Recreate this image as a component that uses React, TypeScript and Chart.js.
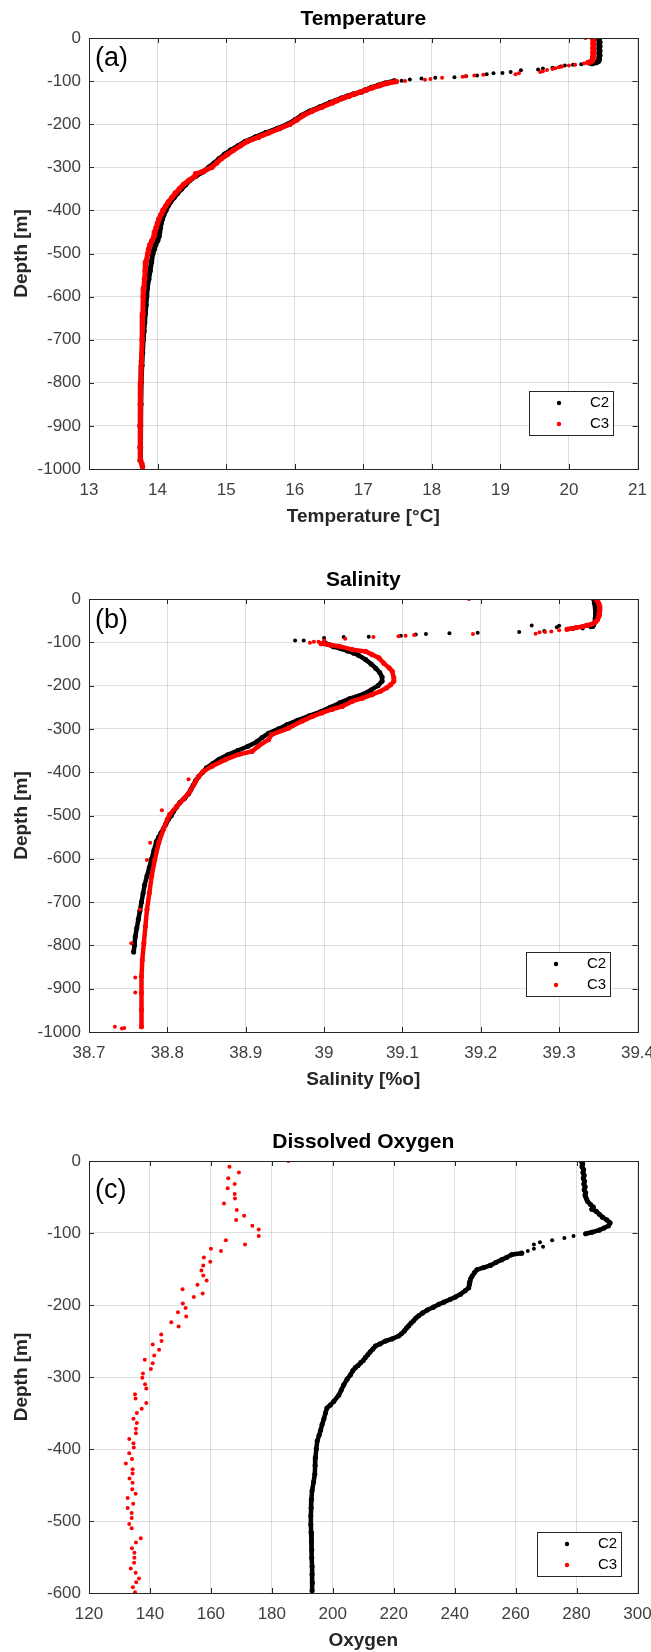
import React, { useEffect, useRef } from 'react';
import { Chart, registerables } from 'chart.js';

Chart.register(...registerables);

type P = [number, number];

const FONT = "'Liberation Sans', Arial, Helvetica, sans-serif";
const AXIS = '#262626';
const TICKTXT = '#404040';
const GRID = 'rgba(38,38,38,0.15)';
const BLACK = '#000000';
const RED = '#ff0000';

// ---------------- Temperature (a) ----------------
const tempTicks = [13, 14, 15, 16, 17, 18, 19, 20, 21];
const depthTicks1000 = [0, -100, -200, -300, -400, -500, -600, -700, -800, -900, -1000];

const tempC2Surface: P[] = [[20.44, 0], [20.44, -5], [20.45, -10], [20.44, -15], [20.45, -20], [20.44, -25], [20.45, -30], [20.44, -35], [20.45, -40], [20.44, -45], [20.44, -50], [20.43, -54], [20.40, -57], [20.34, -59]];
const tempC2Scatter: P[] = [[20.30, -60], [20.18, -61], [20.06, -62], [19.94, -64], [19.88, -66], [19.76, -69], [19.62, -71], [19.55, -73], [19.30, -75], [19.15, -79], [19.03, -81], [18.90, -82], [18.80, -84], [18.66, -87], [18.50, -89], [18.33, -91], [18.05, -92], [17.85, -94], [17.68, -96], [17.56, -99]];
const tempC2Profile: P[] = [[17.45, -100], [17.32, -105], [17.22, -110], [17.12, -115], [17.04, -120], [16.97, -125], [16.86, -130], [16.77, -135], [16.68, -140], [16.60, -145], [16.52, -150], [16.37, -160], [16.22, -170], [16.10, -180], [16.01, -190], [15.90, -200], [15.75, -210], [15.58, -220], [15.43, -230], [15.28, -240], [15.18, -250], [15.07, -260], [14.98, -270], [14.90, -280], [14.83, -290], [14.75, -300], [14.67, -310], [14.56, -320], [14.47, -330], [14.41, -340], [14.35, -350], [14.29, -360], [14.24, -370], [14.19, -380], [14.15, -390], [14.12, -400], [14.09, -410], [14.07, -420], [14.05, -430], [14.04, -440], [14.03, -450], [14.02, -460], [14.00, -470], [13.97, -480], [13.95, -490], [13.93, -500], [13.91, -520], [13.89, -540], [13.87, -560], [13.85, -580], [13.84, -600], [13.83, -620], [13.82, -640], [13.81, -660], [13.80, -680], [13.79, -700], [13.78, -730], [13.77, -760], [13.76, -800], [13.755, -850], [13.75, -900], [13.75, -950], [13.75, -980]];

const tempC3Surface: P[] = [[20.35, -3], [20.36, -8], [20.35, -13], [20.36, -18], [20.35, -23], [20.36, -28], [20.35, -33], [20.36, -38], [20.35, -43], [20.35, -48], [20.34, -52], [20.32, -55], [20.28, -57]];
const tempC3Scatter: P[] = [[20.24, 0], [20.22, -59], [20.09, -62], [20.00, -64], [19.90, -66], [19.85, -68], [19.80, -70], [19.76, -72], [19.68, -74], [19.62, -77], [19.58, -79], [19.27, -82], [19.22, -84], [18.75, -85], [18.62, -87], [18.49, -89], [18.45, -90], [18.15, -92], [17.98, -95], [17.90, -97], [17.61, -100]];
const tempC3Profile: P[] = [[17.48, -101], [17.35, -105], [17.24, -110], [17.14, -115], [17.05, -120], [16.97, -125], [16.87, -130], [16.79, -135], [16.70, -140], [16.62, -145], [16.55, -150], [16.40, -160], [16.25, -170], [16.12, -180], [16.03, -190], [15.93, -200], [15.78, -210], [15.62, -220], [15.47, -230], [15.31, -240], [15.21, -250], [15.11, -260], [15.02, -270], [14.93, -280], [14.86, -290], [14.79, -300], [14.66, -310], [14.56, -315], [14.55, -320], [14.46, -330], [14.38, -340], [14.32, -350], [14.26, -360], [14.21, -370], [14.16, -380], [14.12, -390], [14.08, -400], [14.05, -410], [14.02, -420], [14.00, -430], [13.98, -440], [13.96, -450], [13.95, -460], [13.92, -470], [13.89, -480], [13.87, -490], [13.86, -500], [13.83, -520], [13.82, -540], [13.81, -560], [13.80, -580], [13.79, -600], [13.785, -640], [13.775, -700], [13.765, -750], [13.755, -800], [13.75, -850], [13.745, -900], [13.745, -950], [13.75, -980], [13.77, -988], [13.78, -995]];

// ---------------- Salinity (b) ----------------
const salTicks = [38.7, 38.8, 38.9, 39.0, 39.1, 39.2, 39.3, 39.4];

const salC2Surface: P[] = [[39.344, 0], [39.345, -5], [39.345, -10], [39.346, -15], [39.346, -20], [39.347, -25], [39.347, -30], [39.347, -35], [39.347, -40], [39.346, -45], [39.346, -50], [39.345, -55], [39.344, -60], [39.343, -63]];
const salC2Scatter: P[] = [[39.340, -65], [39.330, -68], [39.318, -69], [39.300, -62], [39.297, -65], [39.281, -74], [39.265, -61], [39.249, -76], [39.196, -78], [39.160, -79], [39.130, -81], [39.117, -82], [39.098, -85], [39.057, -87], [39.025, -88], [39.000, -90], [38.974, -96], [38.963, -96]];
const salC2Profile: P[] = [[39.000, -100], [39.005, -105], [39.012, -110], [39.022, -115], [39.030, -120], [39.038, -125], [39.044, -130], [39.053, -140], [39.060, -150], [39.066, -160], [39.071, -170], [39.074, -180], [39.074, -190], [39.069, -200], [39.060, -210], [39.050, -220], [39.033, -230], [39.020, -240], [39.008, -250], [38.996, -260], [38.981, -270], [38.966, -280], [38.953, -290], [38.942, -300], [38.929, -310], [38.921, -320], [38.914, -330], [38.903, -340], [38.890, -350], [38.877, -360], [38.866, -370], [38.858, -380], [38.850, -390], [38.845, -400], [38.840, -410], [38.836, -420], [38.833, -430], [38.830, -440], [38.827, -450], [38.822, -460], [38.816, -470], [38.812, -480], [38.808, -490], [38.805, -500], [38.801, -510], [38.798, -520], [38.795, -530], [38.792, -540], [38.789, -550], [38.786, -560], [38.783, -580], [38.780, -600], [38.777, -620], [38.774, -640], [38.771, -660], [38.769, -680], [38.767, -700], [38.765, -720], [38.763, -740], [38.761, -760], [38.759, -780], [38.758, -800], [38.757, -815]];

const salC3Surface: P[] = [[39.348, -3], [39.350, -8], [39.351, -13], [39.352, -18], [39.352, -23], [39.352, -28], [39.351, -33], [39.351, -38], [39.350, -43], [39.349, -48], [39.347, -52], [39.344, -56], [39.340, -59], [39.335, -61], [39.329, -64], [39.322, -66], [39.316, -68], [39.310, -70]];
const salC3Scatter: P[] = [[39.185, 0], [39.300, -72], [39.290, -75], [39.282, -76], [39.275, -77], [39.270, -80], [39.190, -81], [39.115, -83], [39.104, -85], [39.095, -86], [39.063, -88], [39.027, -92], [39.000, -96], [38.993, -99], [38.987, -99], [38.982, -101], [38.827, -416], [38.793, -488], [38.778, -563], [38.774, -603], [38.765, -717], [38.754, -795], [38.759, -874], [38.759, -909], [38.733, -988], [38.742, -992], [38.745, -991]];
const salC3Profile: P[] = [[38.996, -103], [39.008, -106], [39.019, -109], [39.036, -117], [39.053, -121], [39.061, -128], [39.070, -136], [39.076, -148], [39.083, -159], [39.087, -167], [39.089, -182], [39.089, -190], [39.085, -198], [39.080, -205], [39.072, -213], [39.061, -221], [39.049, -229], [39.036, -236], [39.023, -248], [39.010, -255], [38.997, -263], [38.985, -271], [38.972, -282], [38.955, -298], [38.933, -313], [38.929, -325], [38.916, -340], [38.908, -352], [38.891, -359], [38.874, -371], [38.857, -386], [38.846, -398], [38.840, -410], [38.835, -425], [38.829, -444], [38.820, -463], [38.812, -479], [38.803, -498], [38.800, -509], [38.795, -532], [38.789, -563], [38.784, -602], [38.780, -640], [38.777, -679], [38.774, -717], [38.772, -756], [38.770, -795], [38.768, -834], [38.767, -872], [38.767, -910], [38.767, -949], [38.767, -988]];

// ---------------- Dissolved Oxygen (c) ----------------
const oxyTicks = [120, 140, 160, 180, 200, 220, 240, 260, 280, 300];
const depthTicks600 = [0, -100, -200, -300, -400, -500, -600];

const oxyC2Upper: P[] = [[281.5, 0], [282, -4], [281.8, -8], [282.3, -12], [282.1, -16], [282.5, -20], [282.2, -24], [282.6, -28], [282.4, -32], [282.8, -36], [282.5, -40], [283, -44], [282.8, -48], [283.2, -52], [283.6, -56], [284.5, -60], [285.5, -64], [285, -67], [286.5, -70], [287.5, -74], [288.5, -78], [290, -82], [291, -86], [290.5, -90], [289, -93], [287.5, -96], [285, -99], [283, -101]];
const oxyC2Scatter: P[] = [[279, -104], [276, -107], [272, -110], [268, -113], [266, -116], [269, -119], [266, -122], [264, -125]];
const oxyC2Profile: P[] = [[262, -128], [258.8, -130], [257, -134], [255.5, -137], [253.5, -141], [251.7, -145], [249.5, -148], [247.3, -151], [246.5, -155], [245.7, -160], [245.2, -164], [245, -168], [244.8, -172], [244.6, -176], [243.5, -180], [241.9, -185], [240.2, -189], [238.6, -192], [236.5, -196], [234.8, -199], [233, -203], [231, -207], [229.5, -211], [228.2, -215], [227.3, -218], [226.5, -222], [225.7, -225], [224.9, -229], [224.2, -232], [223.5, -236], [222.5, -240], [221.6, -243], [219.5, -247], [217.3, -250], [215.5, -254], [214, -257], [213.2, -261], [212.3, -265], [211.5, -269], [210.7, -273], [210, -277], [209.2, -280], [208.3, -284], [207.4, -287], [206.6, -291], [205.8, -297], [204.7, -303], [203.6, -311], [202.8, -318], [202, -325], [200.3, -334], [199.2, -339], [198.1, -343], [197.6, -350], [197.1, -358], [196.5, -366], [196, -374], [195.5, -381], [194.9, -389], [194.6, -400], [194.3, -412], [194.2, -423], [194.1, -435], [193.7, -446], [193.2, -458], [193, -470], [192.9, -482], [192.8, -493], [192.8, -505], [192.9, -516], [193, -528], [193.1, -540], [193.1, -551], [193.2, -563], [193.2, -574], [193.3, -586], [193.2, -597]];

const oxyC3Points: P[] = [[185.4, 0], [166.1, -8], [169.2, -16], [165.7, -24], [167.8, -32], [165.5, -38], [167.8, -46], [167.9, -52], [164.3, -59], [168.5, -68], [170.9, -76], [168.3, -82], [173.6, -90], [175.7, -95], [175.7, -104], [164.9, -110], [171.2, -116], [160.0, -122], [163.3, -125], [157.7, -134], [159.8, -140], [157.5, -145], [156.9, -152], [157.5, -159], [158.6, -166], [155.6, -172], [150.7, -178], [157.3, -184], [154.4, -189], [150.8, -198], [151.7, -204], [149.2, -210], [151.9, -216], [147.0, -224], [149.4, -230], [143.7, -241], [143.8, -250], [140.9, -255], [143.0, -262], [141.4, -270], [138.3, -276], [140.9, -281], [140.3, -289], [137.7, -295], [137.5, -301], [138.4, -310], [138.8, -316], [135.1, -324], [135.3, -330], [138.8, -336], [137.3, -344], [135.7, -350], [134.6, -358], [135.7, -364], [135.4, -372], [135.4, -378], [133.2, -386], [134.6, -392], [134.7, -398], [133.2, -406], [134.1, -414], [132.1, -420], [134.3, -428], [134.3, -434], [133.3, -441], [134.3, -447], [134.2, -456], [135.3, -462], [132.7, -468], [134.5, -476], [132.7, -482], [134.0, -489], [134.0, -496], [133.2, -504], [134.0, -510], [137.0, -524], [135.4, -530], [134.1, -538], [134.9, -544], [134.9, -551], [134.8, -558], [133.7, -566], [135.3, -572], [136.4, -580], [135.5, -585], [134.4, -592], [135.1, -599]];

// ---------------- helpers ----------------
const pts = (a: P[]) => a.map(([x, y]) => ({ x, y }));

const lineSet = (label: string, data: P[], color: string, order: number, width: number) => ({
  label,
  data: pts(data),
  showLine: true,
  borderColor: color,
  backgroundColor: color,
  borderWidth: width,
  borderJoinStyle: 'round',
  borderCapStyle: 'round',
  pointRadius: width / 2 + 0.3,
  pointBorderWidth: 0,
  pointBackgroundColor: color,
  order,
});

const dotSet = (label: string, data: P[], color: string, order: number, legend = false) => ({
  label,
  data: pts(data),
  showLine: false,
  borderColor: color,
  backgroundColor: color,
  pointRadius: 2,
  pointBorderWidth: 0,
  pointBackgroundColor: color,
  order,
  legendEntry: legend,
});

const panels = [
  {
    top: 0, height: 561, plotTop: 38, plotBottom: 469,
    title: 'Temperature', xTitle: 'Temperature [°C]', yTitle: 'Depth [m]', tag: '(a)', tagTop: 8,
    xMin: 13, xMax: 21, xTicks: tempTicks, yMin: -1000, yMax: 0, yTicks: depthTicks1000,
    legend: { right: 25, bottom: 34 },
    datasets: [
      dotSet('C2', tempC2Scatter, BLACK, 1, true),
      lineSet('C2', tempC2Surface, BLACK, 1, 5),
      lineSet('C2', tempC2Profile, BLACK, 1, 5),
      dotSet('C3', tempC3Scatter, RED, 0, true),
      lineSet('C3', tempC3Surface, RED, 0, 5),
      lineSet('C3', tempC3Profile, RED, 0, 5),
    ],
  },
  {
    top: 561, height: 561, plotTop: 38, plotBottom: 471,
    title: 'Salinity', xTitle: 'Salinity [%o]', yTitle: 'Depth [m]', tag: '(b)', tagTop: 9,
    xMin: 38.7, xMax: 39.4, xTicks: salTicks, yMin: -1000, yMax: 0, yTicks: depthTicks1000,
    legend: { right: 28, bottom: 36 },
    datasets: [
      dotSet('C2', salC2Scatter, BLACK, 1, true),
      lineSet('C2', salC2Surface, BLACK, 1, 4.5),
      lineSet('C2', salC2Profile, BLACK, 1, 4.5),
      dotSet('C3', salC3Scatter, RED, 0, true),
      lineSet('C3', salC3Surface, RED, 0, 4.5),
      lineSet('C3', salC3Profile, RED, 0, 4.5),
    ],
  },
  {
    top: 1122, height: 530, plotTop: 39, plotBottom: 471,
    title: 'Dissolved Oxygen', xTitle: 'Oxygen', yTitle: 'Depth [m]', tag: '(c)', tagTop: 17,
    xMin: 120, xMax: 300, xTicks: oxyTicks, yMin: -600, yMax: 0, yTicks: depthTicks600,
    legend: { right: 17, bottom: 17 },
    datasets: [
      dotSet('C2', oxyC2Scatter, BLACK, 1, true),
      lineSet('C2', oxyC2Upper, BLACK, 1, 4.5),
      lineSet('C2', oxyC2Profile, BLACK, 1, 4.5),
      dotSet('C3', oxyC3Points, RED, 0, true),
    ],
  },
];

const makeDecor = (cfg: any) => ({
  id: 'decor',
  afterDatasetsDraw(chart: any) {
    const { ctx, chartArea: a } = chart;
    const xs = chart.scales.x;
    const ys = chart.scales.y;
    ctx.save();
    ctx.strokeStyle = AXIS;
    ctx.lineWidth = 1;
    ctx.beginPath();
    cfg.xTicks.forEach((v: number) => {
      const px = Math.round(xs.getPixelForValue(v)) + 0.5;
      ctx.moveTo(px, a.bottom); ctx.lineTo(px, a.bottom - 5);
      ctx.moveTo(px, a.top); ctx.lineTo(px, a.top + 5);
    });
    cfg.yTicks.forEach((v: number) => {
      const py = Math.round(ys.getPixelForValue(v)) + 0.5;
      ctx.moveTo(a.left, py); ctx.lineTo(a.left + 5, py);
      ctx.moveTo(a.right, py); ctx.lineTo(a.right - 5, py);
    });
    ctx.stroke();
    ctx.strokeRect(Math.round(a.left) + 0.5, Math.round(a.top) + 0.5, Math.round(a.right - a.left), Math.round(a.bottom - a.top));
    ctx.restore();
  },
  afterDraw(chart: any) {
    const { ctx, chartArea: a } = chart;
    ctx.save();
    ctx.fillStyle = '#000';
    ctx.textAlign = 'center';
    ctx.textBaseline = 'middle';
    ctx.font = `bold 21px ${FONT}`;
    ctx.fillText(cfg.title, (a.left + a.right) / 2, a.top - 19);
    ctx.fillStyle = AXIS;
    ctx.font = `bold 19px ${FONT}`;
    ctx.fillText(cfg.xTitle, (a.left + a.right) / 2, a.bottom + 48);
    ctx.save();
    ctx.translate(22, (a.top + a.bottom) / 2);
    ctx.rotate(-Math.PI / 2);
    ctx.fillText(cfg.yTitle, 0, 0);
    ctx.restore();
    ctx.fillStyle = '#000';
    ctx.textAlign = 'left';
    ctx.textBaseline = 'alphabetic';
    ctx.font = `27px ${FONT}`;
    ctx.fillText(cfg.tag, a.left + 6, a.top + cfg.tagTop + 20);
    const entries = chart.data.datasets.filter((d: any) => d.legendEntry);
    const bw = 84;
    const bh = 44;
    const bx = Math.round(a.right - cfg.legend.right - bw);
    const by = Math.round(a.bottom - cfg.legend.bottom - bh);
    ctx.fillStyle = '#fff';
    ctx.fillRect(bx, by, bw, bh);
    ctx.strokeStyle = AXIS;
    ctx.lineWidth = 1;
    ctx.strokeRect(bx + 0.5, by + 0.5, bw, bh);
    ctx.font = `15px ${FONT}`;
    ctx.textBaseline = 'middle';
    entries.forEach((d: any, i: number) => {
      const cy = by + 12 + i * 21;
      ctx.fillStyle = d.pointBackgroundColor;
      ctx.beginPath();
      ctx.arc(bx + 30, cy, 2.2, 0, Math.PI * 2);
      ctx.fill();
      ctx.fillStyle = '#000';
      ctx.fillText(d.label, bx + 61, cy);
    });
    ctx.restore();
  },
});

function Panel({ cfg }: { cfg: any }) {
  const ref = useRef<HTMLCanvasElement | null>(null);
  useEffect(() => {
    if (!ref.current) return;
    const chart = new Chart(ref.current, {
      type: 'scatter',
      data: { datasets: cfg.datasets },
      options: {
        responsive: false,
        animation: false,
        devicePixelRatio: 1,
        layout: { padding: { top: cfg.plotTop, right: 13.5, left: 0, bottom: 0 } },
        plugins: { legend: { display: false }, tooltip: { enabled: false }, title: { display: false } },
        scales: {
          x: {
            type: 'linear',
            min: cfg.xMin,
            max: cfg.xMax,
            afterBuildTicks: (s: any) => { s.ticks = cfg.xTicks.map((v: number) => ({ value: v })); },
            afterFit: (s: any) => { s.height = cfg.height - cfg.plotBottom; s.paddingLeft = 0; s.paddingRight = 0; },
            grid: { color: GRID, drawTicks: false },
            border: { display: false },
            ticks: {
              autoSkip: false, maxRotation: 0, padding: 11, color: TICKTXT,
              font: { family: FONT, size: 17 },
              callback: (v: any) => String(Number(Number(v).toFixed(2))),
            },
          },
          y: {
            type: 'linear',
            min: cfg.yMin,
            max: cfg.yMax,
            afterBuildTicks: (s: any) => { s.ticks = cfg.yTicks.map((v: number) => ({ value: v })); },
            afterFit: (s: any) => { s.width = 89; s.paddingTop = 0; s.paddingBottom = 0; },
            grid: { color: GRID, drawTicks: false },
            border: { display: false },
            ticks: {
              autoSkip: false, padding: 8, color: TICKTXT,
              font: { family: FONT, size: 17 },
              callback: (v: any) => String(v),
            },
          },
        },
      } as any,
      plugins: [makeDecor(cfg)],
    });
    return () => chart.destroy();
  }, [cfg]);
  return (
    <canvas
      ref={ref}
      width={651}
      height={cfg.height}
      style={{ position: 'absolute', left: 0, top: cfg.top, width: 651, height: cfg.height }}
    />
  );
}

export default function App() {
  return (
    <div style={{ position: 'absolute', left: 0, top: 0, width: 651, height: 1652, background: '#fff' }}>
      {panels.map((p, i) => (
        <Panel key={i} cfg={p} />
      ))}
    </div>
  );
}
